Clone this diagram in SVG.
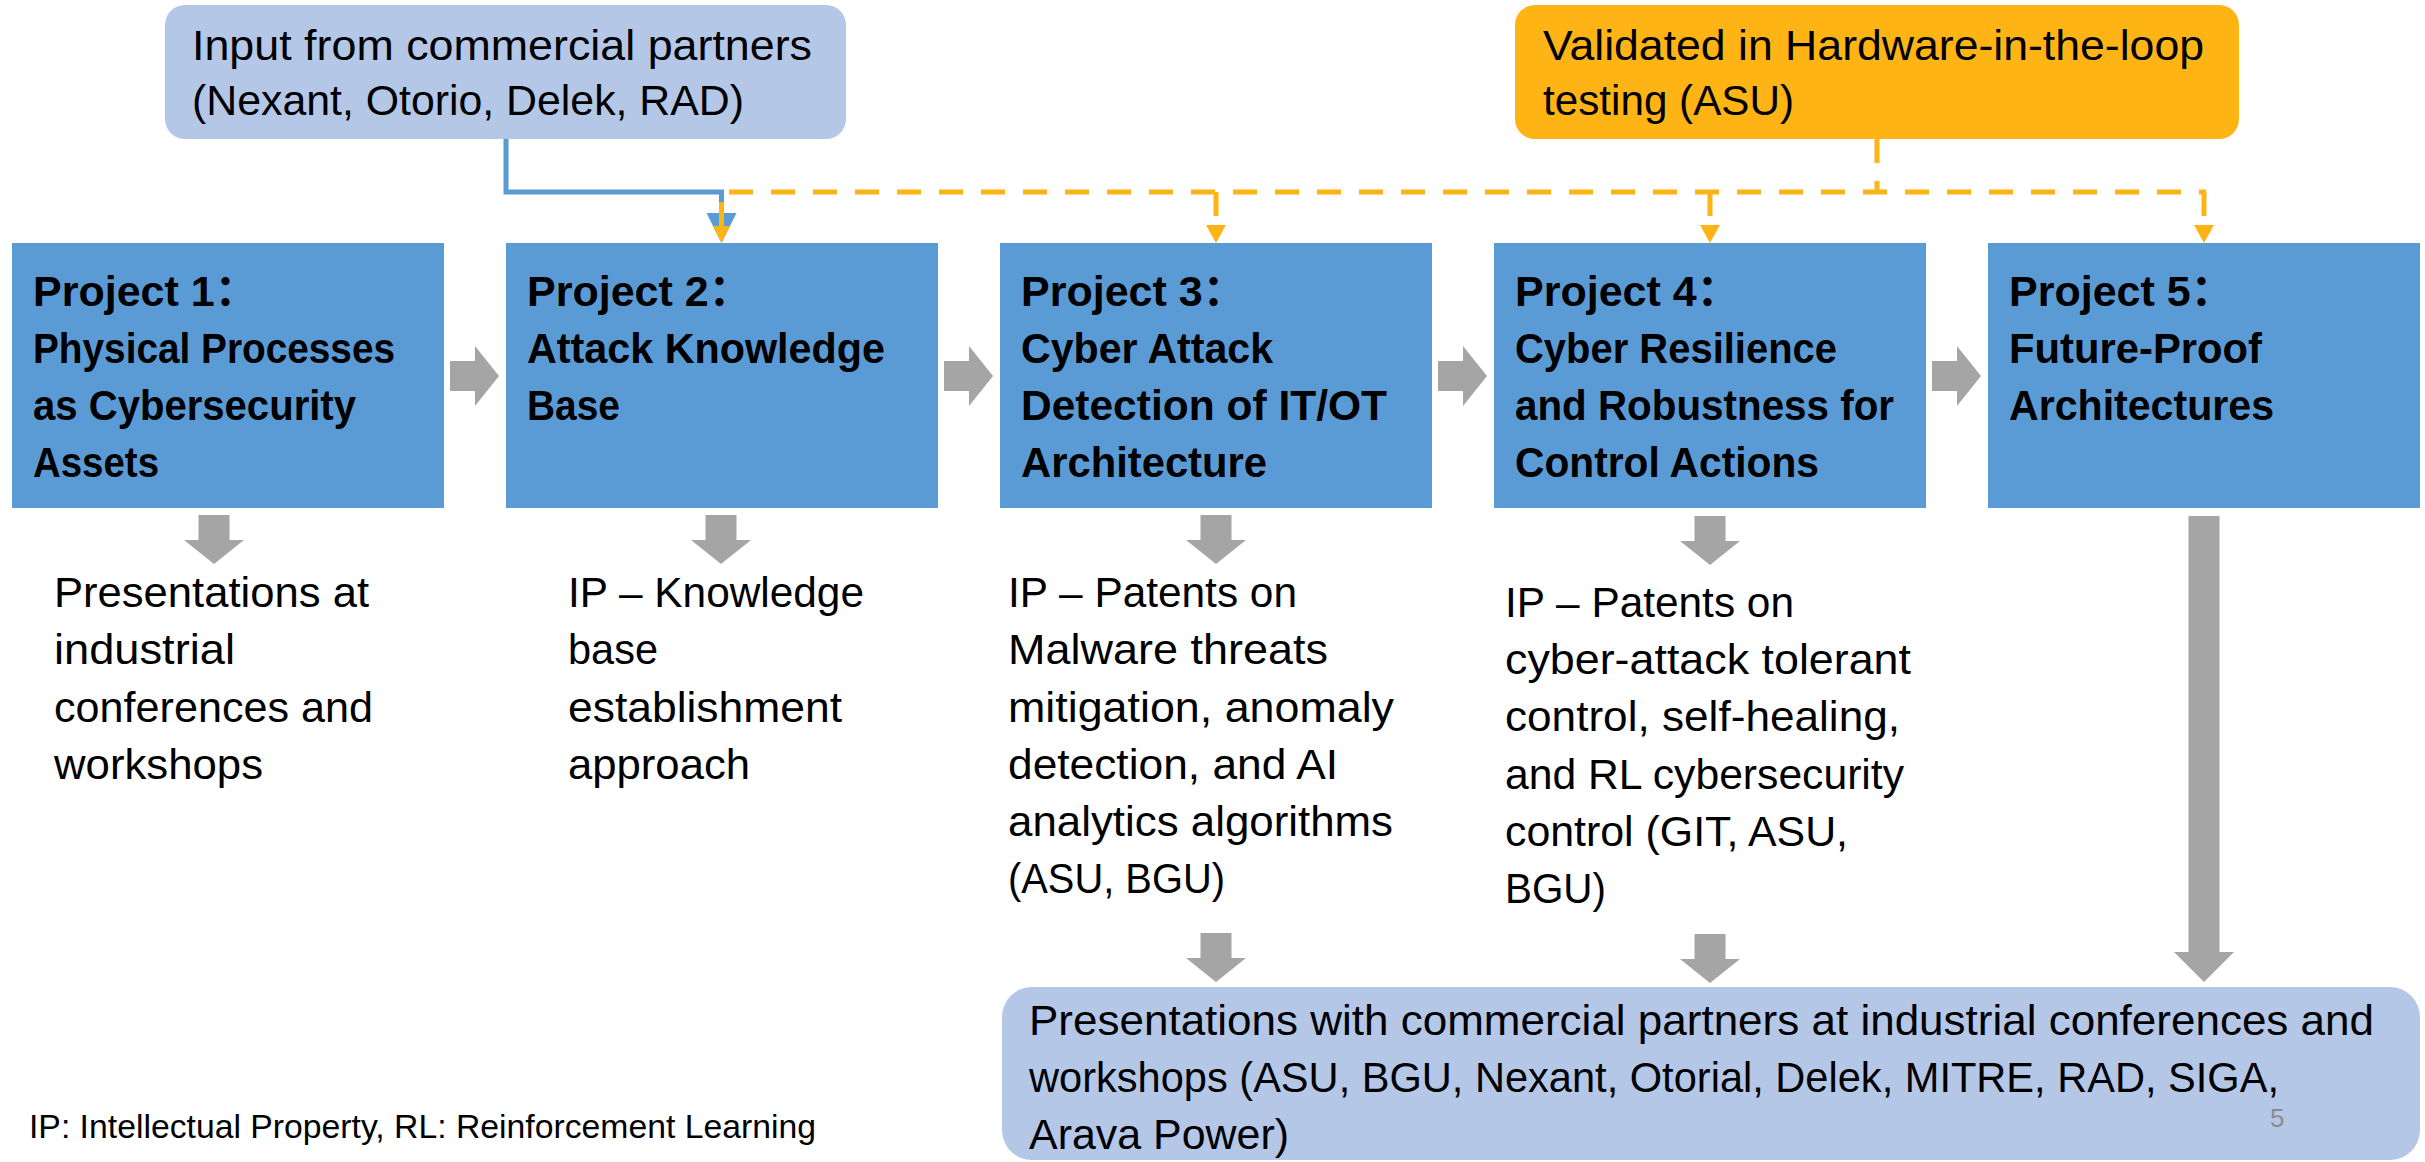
<svg xmlns="http://www.w3.org/2000/svg" width="2425" height="1162" viewBox="0 0 2425 1162">
<style>
text { font-family: "Liberation Sans", "Noto Sans CJK SC", sans-serif; fill: #000; }
.t { font-size: 43px; }
.b { font-size: 43px; font-weight: bold; }
.proj { fill: #5B9BD5; }
.lb { fill: #B4C7E7; }
.orb { fill: #FFB415; }
.ga { fill: #A5A5A5; }
.bl { stroke: #5B9BD5; stroke-width: 5; fill: none; }
.od { stroke: #FFB415; stroke-width: 5; fill: none; stroke-dasharray: 24 18; }
.os { stroke: #FFB415; stroke-width: 5; fill: none; }
.oh { fill: #FFB415; }
.bh { fill: #5B9BD5; }
.fn { font-size: 33px; }
.pg { font-size: 26px; fill: #8B8B8B; }
</style>
<rect width="2425" height="1162" fill="#FFFFFF"/>

<g id="connectors">
  <!-- blue: input to project 2 -->
  <path class="bl" d="M506,139 V192 H721.5 V214"/>
  <polygon class="bh" points="706.5,213 736.5,213 721.5,243"/>
  <!-- orange dashed -->
  <path class="od" d="M1877,139 V192"/>
  <path class="od" d="M729,192 H2206"/>
  <path class="os" d="M721.5,202 V228"/>
  <polygon class="oh" points="713,226 730,226 721.5,243"/>
  <path class="od" d="M1216,192 V227"/>
  <polygon class="oh" points="1206,225 1226,225 1216,243"/>
  <path class="od" d="M1710,192 V227"/>
  <polygon class="oh" points="1700,225 1720,225 1710,243"/>
  <path class="od" d="M2204,192 V227"/>
  <polygon class="oh" points="2194,225 2214,225 2204,243"/>
  <!-- gray right arrows between projects -->
  <polygon class="ga" points="450,361 475,361 475,346 499,376 475,406 475,391 450,391"/>
  <polygon class="ga" points="944,361 969,361 969,346 993,376 969,406 969,391 944,391"/>
  <polygon class="ga" points="1438,361 1463,361 1463,346 1487,376 1463,406 1463,391 1438,391"/>
  <polygon class="ga" points="1932,361 1957,361 1957,346 1981,376 1957,406 1957,391 1932,391"/>
  <!-- gray down arrows under projects -->
  <polygon class="ga" points="198.5,515 229.5,515 229.5,540 244,540 214,564 184,540 198.5,540"/>
  <polygon class="ga" points="705.5,515 736.5,515 736.5,540 751,540 721,564 691,540 705.5,540"/>
  <polygon class="ga" points="1200.5,515 1231.5,515 1231.5,540 1246,540 1216,564 1186,540 1200.5,540"/>
  <polygon class="ga" points="1694.5,516 1725.5,516 1725.5,541 1740,541 1710,565 1680,541 1694.5,541"/>
  <!-- project 5 long arrow -->
  <polygon class="ga" points="2188.5,516 2219.5,516 2219.5,952 2234,952 2204,982 2174,952 2188.5,952"/>
  <!-- lower arrows to bottom box -->
  <polygon class="ga" points="1200.5,933 1231.5,933 1231.5,958 1246,958 1216,982 1186,958 1200.5,958"/>
  <polygon class="ga" points="1694.5,934 1725.5,934 1725.5,959 1740,959 1710,983 1680,959 1694.5,959"/>
</g>

<g id="input-partners">
  <rect class="lb" x="165" y="5" width="681" height="134" rx="20"/>
  <text class="t" x="192" y="60" textLength="620" lengthAdjust="spacingAndGlyphs">Input from commercial partners</text>
  <text class="t" x="192" y="115" textLength="552" lengthAdjust="spacingAndGlyphs">(Nexant, Otorio, Delek, RAD)</text>
</g>

<g id="hil-validation">
  <rect class="orb" x="1515" y="5" width="724" height="134" rx="20"/>
  <text class="t" x="1543" y="60" textLength="661" lengthAdjust="spacingAndGlyphs">Validated in Hardware-in-the-loop</text>
  <text class="t" x="1543" y="115" textLength="251" lengthAdjust="spacingAndGlyphs">testing (ASU)</text>
</g>

<g id="project1">
  <rect class="proj" x="12" y="243" width="432" height="265"/>
  <text class="b" x="33" y="306">Project 1：</text>
  <text class="b" x="33" y="363" textLength="362" lengthAdjust="spacingAndGlyphs">Physical Processes</text>
  <text class="b" x="33" y="420" textLength="323" lengthAdjust="spacingAndGlyphs">as Cybersecurity</text>
  <text class="b" x="33" y="477" textLength="126" lengthAdjust="spacingAndGlyphs">Assets</text>
</g>

<g id="project2">
  <rect class="proj" x="506" y="243" width="432" height="265"/>
  <text class="b" x="527" y="306">Project 2：</text>
  <text class="b" x="527" y="363" textLength="358" lengthAdjust="spacingAndGlyphs">Attack Knowledge</text>
  <text class="b" x="527" y="420" textLength="93" lengthAdjust="spacingAndGlyphs">Base</text>
</g>

<g id="project3">
  <rect class="proj" x="1000" y="243" width="432" height="265"/>
  <text class="b" x="1021" y="306">Project 3：</text>
  <text class="b" x="1021" y="363" textLength="252" lengthAdjust="spacingAndGlyphs">Cyber Attack</text>
  <text class="b" x="1021" y="420" textLength="366" lengthAdjust="spacingAndGlyphs">Detection of IT/OT</text>
  <text class="b" x="1021" y="477" textLength="246" lengthAdjust="spacingAndGlyphs">Architecture</text>
</g>

<g id="project4">
  <rect class="proj" x="1494" y="243" width="432" height="265"/>
  <text class="b" x="1515" y="306">Project 4：</text>
  <text class="b" x="1515" y="363" textLength="322" lengthAdjust="spacingAndGlyphs">Cyber Resilience</text>
  <text class="b" x="1515" y="420" textLength="379" lengthAdjust="spacingAndGlyphs">and Robustness for</text>
  <text class="b" x="1515" y="477" textLength="304" lengthAdjust="spacingAndGlyphs">Control Actions</text>
</g>

<g id="project5">
  <rect class="proj" x="1988" y="243" width="432" height="265"/>
  <text class="b" x="2009" y="306">Project 5：</text>
  <text class="b" x="2009" y="363" textLength="253" lengthAdjust="spacingAndGlyphs">Future-Proof</text>
  <text class="b" x="2009" y="420" textLength="265" lengthAdjust="spacingAndGlyphs">Architectures</text>
</g>

<g id="outcome1">
  <text class="t" x="54" y="607" textLength="315" lengthAdjust="spacingAndGlyphs">Presentations at</text>
  <text class="t" x="54" y="664" textLength="181" lengthAdjust="spacingAndGlyphs">industrial</text>
  <text class="t" x="54" y="722" textLength="319" lengthAdjust="spacingAndGlyphs">conferences and</text>
  <text class="t" x="54" y="779" textLength="209" lengthAdjust="spacingAndGlyphs">workshops</text>
</g>

<g id="outcome2">
  <text class="t" x="568" y="607" textLength="296" lengthAdjust="spacingAndGlyphs">IP – Knowledge</text>
  <text class="t" x="568" y="664" textLength="90" lengthAdjust="spacingAndGlyphs">base</text>
  <text class="t" x="568" y="722" textLength="274" lengthAdjust="spacingAndGlyphs">establishment</text>
  <text class="t" x="568" y="779" textLength="182" lengthAdjust="spacingAndGlyphs">approach</text>
</g>

<g id="outcome3">
  <text class="t" x="1008" y="607" textLength="289" lengthAdjust="spacingAndGlyphs">IP – Patents on</text>
  <text class="t" x="1008" y="664" textLength="320" lengthAdjust="spacingAndGlyphs">Malware threats</text>
  <text class="t" x="1008" y="722" textLength="386" lengthAdjust="spacingAndGlyphs">mitigation, anomaly</text>
  <text class="t" x="1008" y="779" textLength="330" lengthAdjust="spacingAndGlyphs">detection, and AI</text>
  <text class="t" x="1008" y="836" textLength="385" lengthAdjust="spacingAndGlyphs">analytics algorithms</text>
  <text class="t" x="1008" y="893" textLength="217" lengthAdjust="spacingAndGlyphs">(ASU, BGU)</text>
</g>

<g id="outcome4">
  <text class="t" x="1505" y="617" textLength="289" lengthAdjust="spacingAndGlyphs">IP – Patents on</text>
  <text class="t" x="1505" y="674" textLength="406" lengthAdjust="spacingAndGlyphs">cyber-attack tolerant</text>
  <text class="t" x="1505" y="731" textLength="395" lengthAdjust="spacingAndGlyphs">control, self-healing,</text>
  <text class="t" x="1505" y="789" textLength="399" lengthAdjust="spacingAndGlyphs">and RL cybersecurity</text>
  <text class="t" x="1505" y="846" textLength="343" lengthAdjust="spacingAndGlyphs">control (GIT, ASU,</text>
  <text class="t" x="1505" y="903" textLength="101" lengthAdjust="spacingAndGlyphs">BGU)</text>
</g>

<g id="commercial-presentations">
  <rect class="lb" x="1002" y="987" width="1418" height="173" rx="30"/>
  <text class="t" x="1029" y="1035" textLength="1345" lengthAdjust="spacingAndGlyphs">Presentations with commercial partners at industrial conferences and</text>
  <text class="t" x="1029" y="1092" textLength="1250" lengthAdjust="spacingAndGlyphs">workshops (ASU, BGU, Nexant, Otorial, Delek, MITRE, RAD, SIGA,</text>
  <text class="t" x="1029" y="1149" textLength="260" lengthAdjust="spacingAndGlyphs">Arava Power)</text>
</g>

<g id="page-number">
  <text class="pg" x="2270" y="1127">5</text>
</g>

<g id="footnote">
  <text class="fn" x="29" y="1138" textLength="787" lengthAdjust="spacingAndGlyphs">IP: Intellectual Property, RL: Reinforcement Learning</text>
</g>
</svg>
